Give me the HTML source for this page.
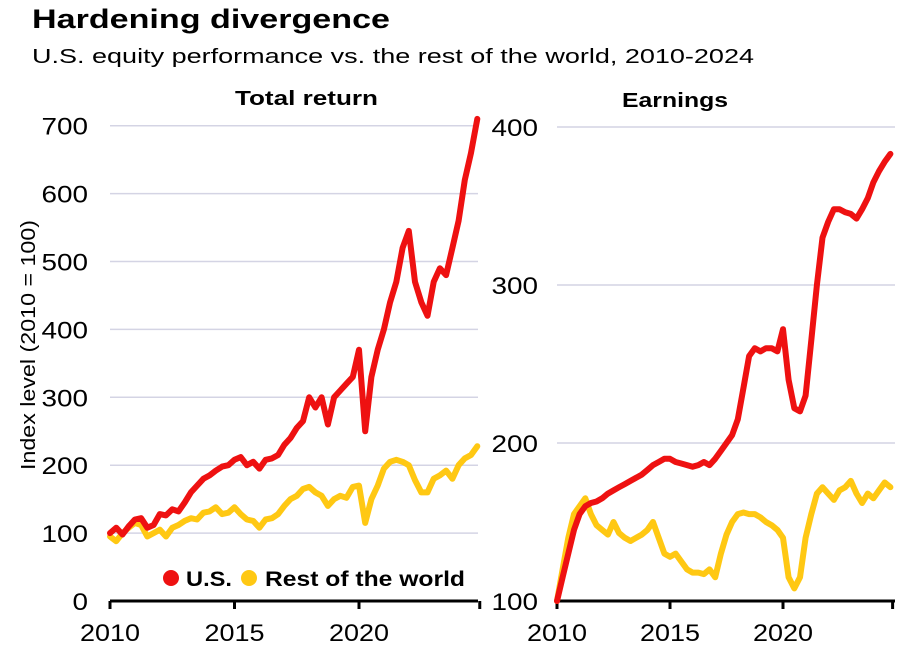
<!DOCTYPE html>
<html><head><meta charset="utf-8"><style>
body{margin:0;background:#fff;width:908px;height:654px;overflow:hidden;font-family:"Liberation Sans",sans-serif}
</style></head><body>
<svg id="c" width="908" height="654" xmlns="http://www.w3.org/2000/svg" font-family="Liberation Sans, sans-serif">
<text x="32" y="28" font-size="27" font-weight="bold" fill="#000" textLength="358" lengthAdjust="spacingAndGlyphs">Hardening divergence</text>
<text x="32" y="63" font-size="20" fill="#000" textLength="722" lengthAdjust="spacingAndGlyphs">U.S. equity performance vs. the rest of the world, 2010-2024</text>
<text x="235" y="105" font-size="20" font-weight="bold" textLength="143" lengthAdjust="spacingAndGlyphs">Total return</text>
<text x="622" y="107" font-size="20" font-weight="bold" textLength="106" lengthAdjust="spacingAndGlyphs">Earnings</text>
<text transform="translate(35,345) rotate(-90)" font-size="20" text-anchor="middle" textLength="250" lengthAdjust="spacingAndGlyphs">Index level (2010 = 100)</text>
<g id="left"></g><g id="right"></g>
<g>
<circle cx="171" cy="578" r="8" fill="#ee1111"/>
<text x="186" y="586" font-size="21" font-weight="bold" textLength="46" lengthAdjust="spacingAndGlyphs">U.S.</text>
<circle cx="249" cy="578" r="8" fill="#ffc813"/>
<text x="265" y="586" font-size="21" font-weight="bold" textLength="200" lengthAdjust="spacingAndGlyphs">Rest of the world</text>
</g>
</svg>
<script>
const years=[2010,2015,2020];
const trTicks=[0,100,200,300,400,500,600,700];
const erTicks=[100,200,300,400];
const trUS=[100,108,98,110,120,122,108,112,128,126,135,132,145,160,170,180,185,192,198,200,208,212,200,205,195,208,210,215,230,240,255,265,300,285,300,260,300,310,320,330,370,250,330,370,400,440,470,520,545,470,440,420,470,490,480,520,560,620,660,710];
const trRoW=[95,88,100,108,115,112,95,100,105,95,108,112,118,122,120,130,132,138,128,130,138,128,120,118,108,120,122,128,140,150,155,165,168,160,155,140,150,155,152,168,170,115,150,170,195,205,208,205,200,178,160,160,180,185,192,180,200,210,215,228];
const erUS=[100,115,130,145,155,160,162,163,165,168,170,172,174,176,178,180,183,186,188,190,190,188,187,186,185,186,188,186,190,195,200,205,215,235,255,260,258,260,260,258,272,240,222,220,230,265,300,330,340,348,348,346,345,342,348,355,365,372,378,383];
const erRoW=[100,120,140,155,160,165,155,148,145,142,150,143,140,138,140,142,145,150,140,130,128,130,125,120,118,118,117,120,115,130,142,150,155,156,155,155,153,150,148,145,140,115,108,115,140,155,168,172,168,164,170,172,176,168,162,168,165,170,175,172];
const NS="http://www.w3.org/2000/svg";
function mk(p,t,a){const e=document.createElementNS(NS,t);for(const k in a)e.setAttribute(k,a[k]);p.appendChild(e);return e;}
function panel(g,cfg){
  const x=y=>cfg.x0+(y-2010)*cfg.px;
  const yv=v=>cfg.y0-(v-cfg.vmin)*cfg.py;
  cfg.ticks.forEach(t=>{
    if(t!==cfg.vmin){const l=mk(g,'line',{x1:cfg.x0,x2:cfg.x1,y1:yv(t),y2:yv(t),stroke:'#d4d4e4','stroke-width':1.5});
    
    }
    const s=String(t);
    const tx=mk(g,'text',{x:cfg.lx-15.5*s.length,y:yv(t)+9,'font-size':24,textLength:15.5*s.length,lengthAdjust:'spacingAndGlyphs'});tx.textContent=s;
    
    
  });
  const ax=mk(g,'line',{x1:cfg.x0,x2:cfg.x1,y1:cfg.y0,y2:cfg.y0,stroke:'#000','stroke-width':3});
  
  
  years.concat([2024.85]).forEach(yr=>{const tk=mk(g,'line',{x1:x(yr),x2:x(yr),y1:cfg.y0,y2:cfg.y0+8,stroke:'#000','stroke-width':3});
    
    });
  years.forEach(yr=>{const tx=mk(g,'text',{x:x(yr)-30,y:cfg.y0+40,'font-size':24,textLength:60,lengthAdjust:'spacingAndGlyphs'});tx.textContent=yr;
    
    });
  [[cfg.row,'#ffc813','rest-of-world-line'],[cfg.us,'#ee1111','us-line']].forEach(([d,c,n])=>{
    const pts=d.map((v,i)=>x(2010+i*0.25).toFixed(1)+','+yv(v).toFixed(1)).join(' ');
    const pl=mk(g,'polyline',{points:pts,fill:'none',stroke:c,'stroke-width':6,'stroke-linejoin':'round','stroke-linecap':'round'});
    
    
  });
}
panel(document.getElementById('left'),{x0:110,x1:478,px:24.9,y0:601,vmin:0,py:0.679,ticks:trTicks,lx:88,us:trUS,row:trRoW});
panel(document.getElementById('right'),{x0:557,x1:895,px:22.6,y0:601,vmin:100,py:1.58,ticks:erTicks,lx:538,us:erUS,row:erRoW});
</script>
</body></html>
